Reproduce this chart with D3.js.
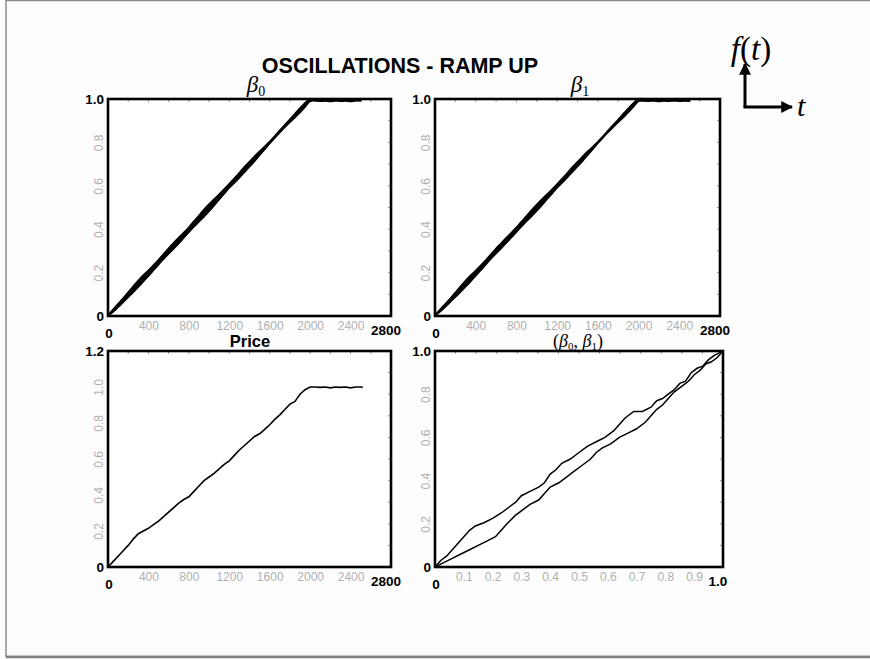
<!DOCTYPE html>
<html><head><meta charset="utf-8">
<script src="https://cdn.jsdelivr.net/npm/d3@7"></script>
<style>body{margin:0;background:#fff}svg{display:block}</style>
</head><body>
<svg id="c" width="870" height="659"></svg>
<script>
// ---------- DATA ----------
const timeSteps = [0,50,100,150,200,250,300,350,400,450,500,550,600,650,700,750,800,850,900,950,1000,1050,1100,1150,1200,1250,1300,1350,1400,1450,1500,1550,1600,1650,1700,1750,1800,1850,1900,1950,2000,2050,2100,2150,2200,2250,2300,2350,2400,2450,2500];
const beta0Low  = [0,0.019,0.041,0.064,0.087,0.110,0.134,0.160,0.185,0.211,0.237,0.263,0.287,0.311,0.335,0.361,0.387,0.412,0.435,0.458,0.483,0.510,0.537,0.564,0.591,0.614,0.638,0.663,0.688,0.714,0.741,0.768,0.795,0.821,0.846,0.870,0.893,0.915,0.938,0.964,0.990,0.992,0.990,0.991,0.989,0.992,0.990,0.991,0.989,0.992,0.991];
const beta0High = [0.003,0.029,0.056,0.081,0.109,0.137,0.163,0.188,0.210,0.234,0.259,0.285,0.312,0.337,0.361,0.384,0.409,0.436,0.463,0.490,0.515,0.538,0.561,0.585,0.609,0.634,0.660,0.687,0.711,0.736,0.759,0.780,0.804,0.829,0.855,0.881,0.906,0.932,0.958,0.982,1.000,1.000,0.999,1.000,0.998,1.000,0.999,1.000,0.999,1.000,0.999];
const beta1Low  = [0,0.020,0.042,0.065,0.088,0.111,0.135,0.160,0.186,0.211,0.238,0.264,0.289,0.312,0.337,0.362,0.388,0.413,0.437,0.460,0.485,0.511,0.538,0.564,0.592,0.615,0.639,0.664,0.689,0.715,0.742,0.769,0.796,0.822,0.847,0.871,0.894,0.916,0.939,0.965,0.990,0.991,0.990,0.992,0.989,0.991,0.990,0.992,0.990,0.991,0.990];
const beta1High = [0.003,0.030,0.055,0.080,0.108,0.136,0.162,0.187,0.209,0.233,0.258,0.284,0.311,0.335,0.360,0.383,0.408,0.435,0.461,0.488,0.513,0.537,0.560,0.584,0.608,0.633,0.659,0.686,0.710,0.735,0.758,0.779,0.803,0.828,0.854,0.880,0.905,0.931,0.957,0.981,1.000,1.000,0.999,1.000,0.999,1.000,0.998,1.000,0.999,1.000,0.999];
const priceT    = [0,50,100,150,200,250,300,350,400,450,500,550,600,650,700,750,800,850,900,950,1000,1050,1100,1150,1200,1250,1300,1350,1400,1450,1500,1550,1600,1650,1700,1750,1800,1850,1900,1950,2000,2050,2100,2150,2200,2250,2300,2350,2400,2450,2500,2520];
const priceVals = [0,0.030,0.060,0.090,0.120,0.155,0.185,0.200,0.215,0.235,0.255,0.280,0.305,0.330,0.355,0.375,0.390,0.420,0.450,0.480,0.500,0.520,0.545,0.570,0.590,0.620,0.650,0.675,0.700,0.725,0.740,0.765,0.790,0.820,0.845,0.875,0.905,0.920,0.960,0.985,1.000,1.000,0.998,1.000,0.995,1.000,0.998,1.000,0.995,1.000,1.000,0.998];
const phaseUpperX = [0,0.02,0.04,0.06,0.08,0.10,0.12,0.14,0.17,0.20,0.23,0.26,0.28,0.30,0.33,0.36,0.38,0.40,0.42,0.44,0.47,0.50,0.53,0.56,0.59,0.62,0.64,0.66,0.69,0.72,0.75,0.77,0.79,0.81,0.83,0.85,0.87,0.89,0.91,0.93,0.95,0.97,0.985,1.0];
const phaseUpperY = [0,0.03,0.05,0.08,0.11,0.14,0.17,0.19,0.205,0.225,0.25,0.28,0.30,0.33,0.35,0.37,0.39,0.43,0.45,0.48,0.50,0.53,0.56,0.58,0.60,0.63,0.66,0.69,0.72,0.72,0.74,0.77,0.78,0.80,0.82,0.85,0.86,0.90,0.92,0.93,0.96,0.98,0.99,1.0];
const phaseLowerX = [0,0.03,0.06,0.09,0.12,0.15,0.18,0.21,0.23,0.25,0.28,0.30,0.33,0.36,0.38,0.40,0.43,0.46,0.48,0.51,0.54,0.56,0.58,0.61,0.64,0.67,0.70,0.73,0.75,0.77,0.79,0.81,0.83,0.86,0.88,0.90,0.92,0.94,0.96,0.98,1.0];
const phaseLowerY = [0,0.02,0.04,0.06,0.08,0.10,0.12,0.14,0.17,0.20,0.24,0.26,0.29,0.31,0.34,0.37,0.39,0.42,0.44,0.47,0.50,0.53,0.55,0.57,0.60,0.62,0.64,0.67,0.70,0.73,0.75,0.78,0.81,0.84,0.86,0.89,0.91,0.94,0.95,0.97,1.0];
const timeTicks  = [400,800,1200,1600,2000,2400];
const betaTicks  = [0.2,0.4,0.6,0.8];
const priceTicks = [0.2,0.4,0.6,0.8,1.0];
const phaseTicks = [0.1,0.2,0.3,0.4,0.5,0.6,0.7,0.8,0.9];

// ---------- DRAW ----------
const svg = d3.select("#c");
svg.append("rect").attr("x",6).attr("y",0.5).attr("width",900).attr("height",656)
  .attr("fill","#fdfdfd").attr("stroke","#8a8a8a").attr("stroke-width",1.5);
svg.append("line").attr("x1",6).attr("x2",870).attr("y1",657).attr("y2",657).attr("stroke","#808080").attr("stroke-width",2.5);

const sans = "Arial, Liberation Sans, sans-serif";
svg.append("text").attr("x",400).attr("y",73).attr("text-anchor","middle")
  .attr("font-family",sans).attr("font-weight","bold").attr("font-size",21.5)
  .text("OSCILLATIONS - RAMP UP");

function panel(box, xDom, yDom, xTicks, yTicks, xFmt, yFmt) {
  const x = d3.scaleLinear().domain(xDom).range([box.x0, box.x1]);
  const y = d3.scaleLinear().domain(yDom).range([box.y1, box.y0]);
  const g = svg.append("g");
  g.append("rect").attr("x",box.x0).attr("y",box.y0).attr("width",box.x1-box.x0).attr("height",box.y1-box.y0).attr("fill","#fff");
  const ax = g.append("g").attr("transform",`translate(0,${box.y1})`)
    .call(d3.axisBottom(x).tickValues(xTicks).tickSize(0).tickPadding(5).tickFormat(xFmt));
  ax.select(".domain").remove();
  ax.selectAll("text").attr("fill","#b0b0b0").attr("font-size",12).attr("font-family",sans);
  const ay = g.append("g").attr("transform",`translate(${box.x0},0)`)
    .call(d3.axisLeft(y).tickValues(yTicks).tickSize(0).tickFormat(yFmt));
  ay.select(".domain").remove();
  ay.selectAll(".tick text").attr("fill","#b0b0b0").attr("font-size",12).attr("font-family",sans)
    .attr("text-anchor","middle").attr("x",0)
    .attr("transform","translate(-9,0) rotate(-90)").attr("dy","0.35em");
  const fineX = d3.range(xDom[0], xDom[1]+1e-9, (xDom[1]-xDom[0])/14);
  g.selectAll(".ft").data(fineX).join("line").attr("x1",d=>x(d)).attr("x2",d=>x(d))
    .attr("y1",box.y0).attr("y2",box.y0+3).attr("stroke","#999").attr("stroke-width",1);
  const fineY = d3.range(yDom[0], yDom[1]+1e-9, (yDom[1]-yDom[0])/10);
  g.selectAll(".fr").data(fineY).join("line").attr("y1",d=>y(d)).attr("y2",d=>y(d))
    .attr("x1",box.x1).attr("x2",box.x1-3).attr("stroke","#999").attr("stroke-width",1);
  return {x, y, g};
}

function frame(box) {
  svg.append("rect").attr("x",box.x0).attr("y",box.y0).attr("width",box.x1-box.x0).attr("height",box.y1-box.y0)
    .attr("fill","none").attr("stroke","#000").attr("stroke-width",2.6);
}

function blackLabels(box, topTxt, rightTxt, bottomY) {
  const add = (x,y,t,anchor) => svg.append("text").attr("x",x).attr("y",y).attr("text-anchor",anchor)
    .attr("font-family",sans).attr("font-weight","bold").attr("font-size",13.5).text(t);
  add(box.x0-4, box.y0+5, topTxt, "end");
  add(box.x0-4, box.y1+5, "0", "end");
  add(box.x0+1, bottomY, "0", "middle");
  add(box.x1-5, bottomY-3, rightTxt, "middle");
}

const B1 = {x0:108,x1:391,y0:99,y1:316};
const B2 = {x0:435,x1:720,y0:99,y1:316};
const B3 = {x0:108,x1:391,y0:351,y1:567};
const B4 = {x0:435,x1:723,y0:351,y1:567};
const fmtT = d3.format("d"), fmtV = d3.format(".1f");

function bandPanel(box, lo, hi) {
  const p = panel(box,[0,2800],[0,1],timeTicks,betaTicks,fmtT,fmtV);
  const pts = timeSteps.map((t,i)=>({t, lo:lo[i], hi:hi[i]}));
  p.g.append("path").datum(pts)
    .attr("d", d3.area().x(d=>p.x(d.t)).y0(d=>p.y(d.lo)).y1(d=>p.y(d.hi)).curve(d3.curveCatmullRom))
    .attr("fill","#000").attr("stroke","#000").attr("stroke-width",1.8).attr("stroke-linejoin","round");
  frame(box);
  blackLabels(box,"1.0","2800",box.y1+22);
}
bandPanel(B1, beta0Low, beta0High);
bandPanel(B2, beta1Low, beta1High);

{
  const p = panel(B3,[0,2800],[0,1.2],timeTicks,priceTicks,fmtT,fmtV);
  p.g.append("path").datum(priceT.map((t,i)=>[t,priceVals[i]]))
    .attr("d", d3.line().x(d=>p.x(d[0])).y(d=>p.y(d[1])))
    .attr("fill","none").attr("stroke","#000").attr("stroke-width",1.6);
  frame(B3);
  blackLabels(B3,"1.2","2800",B3.y1+22);
}
{
  const p = panel(B4,[0,1],[0,1],phaseTicks,betaTicks,fmtV,fmtV);
  const ln = d3.line().x(d=>p.x(d[0])).y(d=>p.y(d[1]));
  p.g.append("path").datum(phaseUpperX.map((v,i)=>[v,phaseUpperY[i]])).attr("d",ln)
    .attr("fill","none").attr("stroke","#000").attr("stroke-width",1.5);
  p.g.append("path").datum(phaseLowerX.map((v,i)=>[v,phaseLowerY[i]])).attr("d",ln)
    .attr("fill","none").attr("stroke","#000").attr("stroke-width",1.5);
  frame(B4);
  blackLabels(B4,"1.0","1.0",B4.y1+22);
}

const serif = "'Liberation Serif','DejaVu Serif',serif";
function betaTitle(x, y, sub) {
  const t = svg.append("text").attr("x",x).attr("y",y).attr("font-family",serif).attr("font-size",23).attr("text-anchor","middle");
  t.append("tspan").attr("font-style","italic").text("β");
  t.append("tspan").attr("font-size",14).attr("dy",4).text(sub);
}
betaTitle(256, 92, "0");
betaTitle(580, 92, "1");
svg.append("text").attr("x",250).attr("y",347).attr("text-anchor","middle")
  .attr("font-family",sans).attr("font-weight","bold").attr("font-size",16.5).text("Price");
{
  const t = svg.append("text").attr("x",578).attr("y",347).attr("text-anchor","middle").attr("font-family",serif).attr("font-size",18);
  t.append("tspan").text("(");
  t.append("tspan").attr("font-style","italic").text("β");
  t.append("tspan").attr("font-size",11).attr("dy",3).text("0");
  t.append("tspan").attr("dy",-3).text(", ");
  t.append("tspan").attr("font-style","italic").text("β");
  t.append("tspan").attr("font-size",11).attr("dy",3).text("1");
  t.append("tspan").attr("dy",-3).text(")");
}

svg.append("text").attr("x",751).attr("y",60).attr("text-anchor","middle").attr("font-family",serif).attr("font-size",33)
  .html('<tspan font-style="italic">f</tspan>(<tspan font-style="italic">t</tspan>)');
svg.append("text").attr("x",797).attr("y",116).attr("font-family",serif).attr("font-style","italic").attr("font-size",30).text("t");
const defs = svg.append("defs");
defs.append("marker").attr("id","ah").attr("viewBox","0 0 10 10").attr("refX",9).attr("refY",5)
  .attr("markerWidth",4).attr("markerHeight",4).attr("orient","auto")
  .append("path").attr("d","M0,0 L10,5 L0,10 Z").attr("fill","#000");
svg.append("path").attr("d","M745,107 L745,64").attr("stroke","#000").attr("stroke-width",3).attr("marker-end","url(#ah)");
svg.append("path").attr("d","M743.5,107 L792,107").attr("stroke","#000").attr("stroke-width",3).attr("marker-end","url(#ah)");
</script>
</body></html>
